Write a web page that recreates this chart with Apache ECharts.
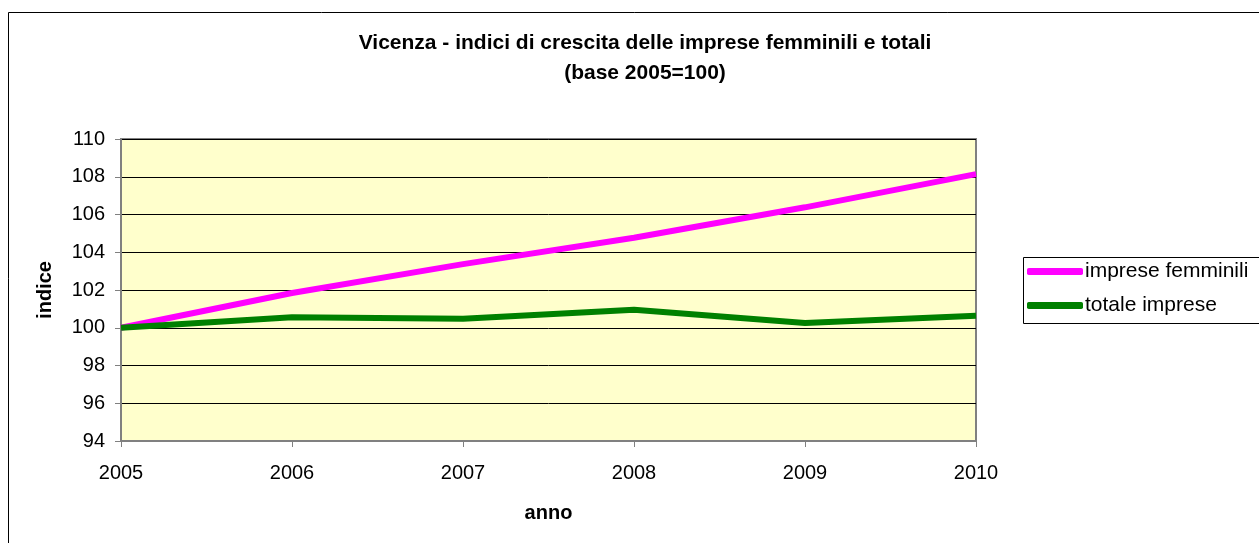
<!DOCTYPE html>
<html>
<head>
<meta charset="utf-8">
<script src="https://cdn.jsdelivr.net/npm/echarts@6/dist/echarts.min.js"></script>
<style>
  html, body { margin: 0; padding: 0; background: #fff; }
  #chart { width: 1259px; height: 543px; }
</style>
</head>
<body>
<div id="chart"></div>
<script>
// dati
const anni = ['2005', '2006', '2007', '2008', '2009', '2010']
const impreseFemminili = [100, 101.84, 103.37, 104.77, 106.38, 108.14]
const totaleImprese = [100, 100.56, 100.48, 100.95, 100.25, 100.63]

const font = '"Liberation Sans", Arial, sans-serif'

const chart = echarts.init(document.getElementById('chart'))
chart.setOption({
  animation: false,
  backgroundColor: '#fff',
  textStyle: { fontFamily: font, color: '#000' },
  title: {
    text: 'Vicenza - indici di crescita delle imprese femminili e totali\n(base 2005=100)',
    left: 640,
    top: 23,
    textAlign: 'center',
    textStyle: { fontFamily: font, fontSize: 21, fontWeight: 'bold', lineHeight: 30, color: '#000' }
  },
  graphic: [
    // cornice esterna
    { type: 'rect', shape: { x: 8.5, y: 12.5, width: 1260, height: 540 }, style: { fill: null, stroke: '#000', lineWidth: 1 }, z: -1 },
    // riquadro legenda
    { type: 'rect', shape: { x: 1023.5, y: 257.5, width: 240, height: 66 }, style: { fill: '#fff', stroke: '#000', lineWidth: 1 }, z: 0 }
  ],
  legend: {
    orient: 'vertical',
    left: 1022,
    top: 256,
    itemWidth: 56,
    itemHeight: 7,
    itemGap: 13,
    icon: 'roundRect',
    textStyle: { fontFamily: font, fontSize: 21, color: '#000', padding: [0, 0, 0, -3] },
    data: ['imprese femminili', 'totale imprese'],
    z: 5
  },
  grid: {
    left: 121,
    right: 283,
    top: 139,
    bottom: 102,
    show: true,
    backgroundColor: '#FFFFCC',
    borderColor: '#808080',
    borderWidth: 2
  },
  xAxis: {
    type: 'category',
    data: anni,
    boundaryGap: false,
    name: 'anno',
    nameLocation: 'middle',
    nameGap: 62,
    nameTextStyle: { fontFamily: font, fontSize: 20, fontWeight: 'bold', color: '#000' },
    axisLine: { lineStyle: { color: '#808080', width: 2 } },
    axisTick: { show: true, length: 6, lineStyle: { color: '#808080' } },
    axisLabel: { fontFamily: font, fontSize: 20, color: '#000', margin: 22 },
    splitLine: { show: false }
  },
  yAxis: {
    type: 'value',
    min: 94,
    max: 110,
    interval: 2,
    name: 'indice',
    nameLocation: 'middle',
    nameGap: 66,
    nameRotate: 90,
    nameTextStyle: { fontFamily: font, fontSize: 20, fontWeight: 'bold', color: '#000' },
    axisLine: { show: true, lineStyle: { color: '#808080', width: 2 } },
    axisTick: { show: true, length: 6, lineStyle: { color: '#808080' } },
    axisLabel: { fontFamily: font, fontSize: 20, color: '#000', margin: 16 },
    splitLine: { show: true, lineStyle: { color: '#000', width: 1 } }
  },
  series: [
    {
      name: 'imprese femminili',
      type: 'line',
      data: impreseFemminili,
      showSymbol: false,
      symbol: 'none',
      color: '#FF00FF',
      lineStyle: { color: '#FF00FF', width: 6 },
      z: 3
    },
    {
      name: 'totale imprese',
      type: 'line',
      data: totaleImprese,
      showSymbol: false,
      symbol: 'none',
      color: '#008000',
      lineStyle: { color: '#008000', width: 6 },
      z: 3
    }
  ]
})
</script>
</body>
</html>
